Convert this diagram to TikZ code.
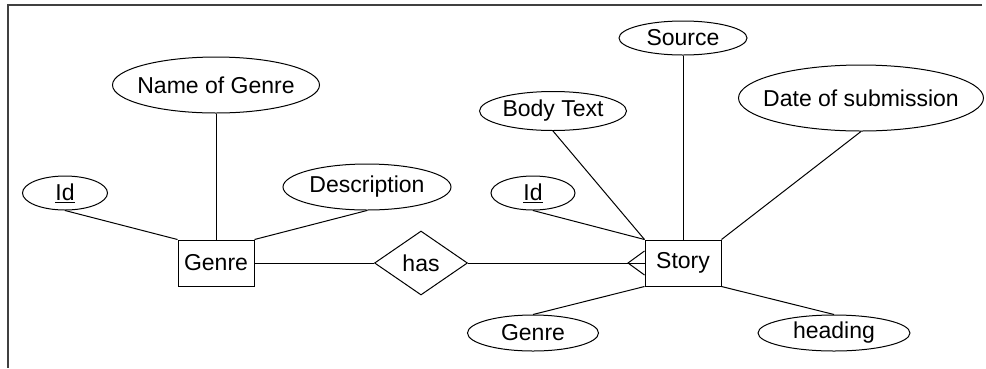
\documentclass[tikz,border=0pt]{standalone}
\usepackage{fontspec}
\setmainfont{Liberation Sans}
\usepackage{tikz}
\usetikzlibrary{shapes.geometric}

\newcommand{\attrtext}[1]{\makebox[0pt]{#1}}

\begin{document}
\begin{tikzpicture}
      [x=1pt, y=-1pt, line width=1pt,
      every node/.style={font=\fontsize{23}{27}\selectfont, inner sep=0pt},
      entity/.style={rectangle, draw, minimum width=76pt, minimum height=46pt},
      attribute/.style={ellipse, draw},
      relation/.style={diamond, draw, minimum width=93pt, minimum height=64pt},
      frame/.style={draw=black!75, line width=1.4pt}]

      \useasboundingbox (0,0) rectangle (986,368);
      \draw [frame] (982,5) -- (8,5) -- (8,368);

      % entities and relation
      \node [entity] (G) at (216,263) {Genre};
      \node [entity] (S) at (683,263) {Story};
      \node [relation] (H) at (421,263) {has};

      % attributes of Genre
      \node [attribute, minimum width=85pt, minimum height=34pt] (GI) at (65,193) {\attrtext{\underline{Id}}};
      \node [attribute, minimum width=207pt, minimum height=56pt] (GN) at (216,85) {\attrtext{Name of Genre}};
      \node [attribute, minimum width=168pt, minimum height=46pt] (GD) at (367,187) {\attrtext{Description}};

      % attributes of Story
      \node [attribute, minimum width=84pt, minimum height=34pt] (SI) at (533,193) {\attrtext{\underline{Id}}};
      \node [attribute, minimum width=147pt, minimum height=39pt] (SB) at (553,111) {\attrtext{Body Text}};
      \node [attribute, minimum width=128pt, minimum height=34pt] (SS) at (683,38) {\attrtext{Source}};
      \node [attribute, minimum width=245pt, minimum height=66pt] (SD) at (861,98) {\attrtext{Date of submission}};
      \node [attribute, minimum width=131pt, minimum height=36pt] (SG) at (533,333) {\attrtext{Genre}};
      \node [attribute, minimum width=152pt, minimum height=36pt] (SH) at (834,333) {\attrtext{heading}};

      \draw (GI.south) -- (G.north west);
      \draw (GN.south) -- (G.north);
      \draw (GD.south) -- (G.north east);
      \draw (G.east) -- (H.west);
      \draw (H.east) -- (S.west);

      % many side
      \coordinate (crow) at (628,263);
      \draw ([yshift=12pt]S.west) -- (crow) -- ([yshift=-12pt]S.west);

      \draw (SI.south) -- (S.north west);
      \draw (SB.south) -- (S.north west);
      \draw (SS.south) -- (S.north);
      \draw (SD.south) -- (S.north east);
      \draw (SG.north) -- (S.south west);
      \draw (SH.north) -- (S.south east);
    \end{tikzpicture}
\end{document}
